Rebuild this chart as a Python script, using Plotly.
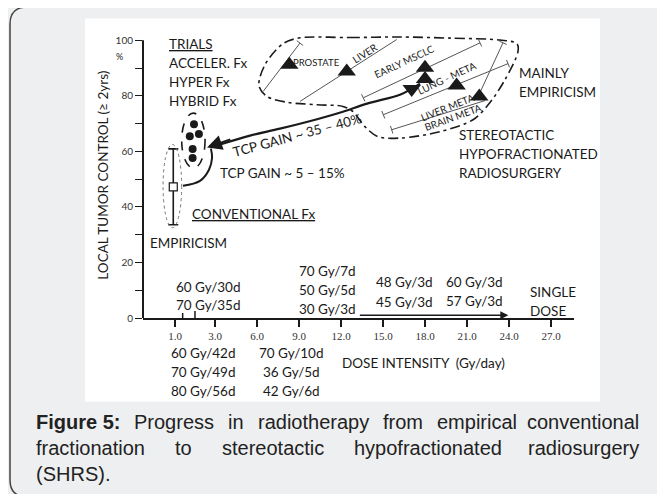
import plotly.graph_objects as go

# ---------------- canvas / axis geometry ----------------
W, H = 665, 494
OFF = 8                      # page body margin around the figure
ML, MR = 135, 99
MT = 24.4
MB = H - (318.3 - OFF)
X_RANGE = [-2.143, 28.643]
Y_RANGE = [0, 103]
PW, PH = W - ML - MR, H - MT - MB
SX = PW / (X_RANGE[1] - X_RANGE[0])   # px per x unit
SY = PH / (Y_RANGE[1] - Y_RANGE[0])   # px per y unit

# ---------------- data ----------------
X_TICK_POS = [0.15, 3, 6, 9, 12, 15, 18, 21, 24, 27]
X_TICK_TEXT = ["1.0", "3.0", "6.0", "9.0", "12.0", "15.0", "18.0", "21.0", "24.0", "27.0"]
Y_TICKS = [0, 10, 20, 30, 40, 50, 60, 70, 80, 90, 100]
Y_TICK_TEXT = ["0", "", "20", "", "40", "", "60", "", "80", "", "100"]

# conventional fractionation (mean with range)
CONV_X = [0.02]
CONV_Y = [47.2]
CONV_UP = [13.7]
CONV_DN = [13.6]

# hybrid / accelerated / hyper fractionation trials
HYB_X = [1.5, 1.2, 1.85, 1.4, 1.4]
HYB_Y = [69.8, 65.5, 66.3, 60.9, 57.6]

# SHRS sites
SHRS_SITE = ["Prostate", "Liver", "Early MSCLC", "Lung", "Lung meta", "Brain meta"]
SHRS_X = [8.31, 12.41, 18.0, 18.0, 20.26, 21.88]
SHRS_Y = [91.2, 88.8, 90.1, 86.1, 83.7, 79.8]
DOWN_X = [17.05]
DOWN_Y = [82.5]

# ranges of SHRS sites: (x0, y0, x1, y1, cap_start, cap_end)
RANGES = [
    (6.44, 81.6, 9.07, 99.0, False, True),
    (9.07, 78.0, 15.98, 100.3, False, False),
    (13.59, 79.3, 21.93, 99.1, True, True),
    (15.02, 73.2, 23.93, 91.6, True, True),
    (15.62, 67.8, 22.29, 78.3, True, False),
    (21.79, 79.7, 23.57, 99.1, False, True),
]

# region outline (dash-dot) around SHRS
OUT_X = [9.07, 12.64, 16.21, 19.79, 23.36, 24.57, 24.64, 23.71, 22.64, 21.43, 19.07,
         16.21, 14.64, 13.71, 12.86, 12.14, 10.29, 8.14, 6.71, 6.14, 6.57, 7.86, 9.07]
OUT_Y = [100.9, 101.0, 101.2, 100.8, 100.1, 98.8, 95.9, 85.8, 77.6, 71.4, 67.1,
         64.8, 65.3, 68.9, 74.3, 76.2, 76.8, 77.7, 79.8, 83.7, 91.2, 98.8, 100.9]

# TCP gain ~35-40% path (thick)
GAIN_X = [3.43, 5.5, 7.64, 10.29, 12.14, 13.86, 16.21, 17.07, 17.64]
GAIN_Y = [62.6, 65.7, 68.2, 71.6, 74.3, 77.2, 80.4, 82.6, 84.4]
# TCP gain ~5-15% small curve
SMALL_X = [0.71, 1.93, 2.57, 2.79, 2.71]
SMALL_Y = [47.6, 49.4, 53.4, 57.7, 61.0]

INK = "#1a1a1a"
LAB = "Lato, 'Open Sans', sans-serif"

fig = go.Figure()

# outline
fig.add_trace(go.Scatter(x=OUT_X, y=OUT_Y, mode="lines",
                         line=dict(color=INK, width=1.6, dash="10px,4px,3px,4px", shape="spline", smoothing=0.9),
                         hoverinfo="skip", showlegend=False))

# range lines with caps
def cap(xa, ya, xb, yb, half=4.0):
    # perpendicular cap at (xa,ya) for a segment from a to b, built in pixel space
    dxp, dyp = (xb - xa) * SX, (yb - ya) * SY
    n = (dxp ** 2 + dyp ** 2) ** 0.5
    px, py = -dyp / n * half, dxp / n * half
    return [xa - px / SX, xa + px / SX], [ya - py / SY, ya + py / SY]

for (x0, y0, x1, y1, c0, c1) in RANGES:
    xs, ys = [x0, x1], [y0, y1]
    if c0:
        cx, cy = cap(x0, y0, x1, y1)
        xs += [None] + cx
        ys += [None] + cy
    if c1:
        cx, cy = cap(x1, y1, x0, y0)
        xs += [None] + cx
        ys += [None] + cy
    fig.add_trace(go.Scatter(x=xs, y=ys, mode="lines", line=dict(color="#555", width=1),
                             hoverinfo="skip", showlegend=False))

# thick TCP gain path
fig.add_trace(go.Scatter(x=GAIN_X, y=GAIN_Y, mode="lines",
                         line=dict(color=INK, width=2.2, shape="spline"),
                         hoverinfo="skip", showlegend=False))
fig.add_trace(go.Scatter(x=SMALL_X, y=SMALL_Y, mode="lines",
                         line=dict(color=INK, width=2, shape="spline"),
                         hoverinfo="skip", showlegend=False))

# conventional point with range
fig.add_trace(go.Scatter(x=CONV_X, y=CONV_Y, mode="markers",
                         marker=dict(symbol="square", size=8, color="white", line=dict(color=INK, width=1.2)),
                         error_y=dict(type="data", symmetric=False, array=CONV_UP, arrayminus=CONV_DN,
                                      color=INK, thickness=1.6, width=5),
                         hoverinfo="skip", showlegend=False))
# hybrid dots
fig.add_trace(go.Scatter(x=HYB_X, y=HYB_Y, mode="markers",
                         marker=dict(symbol="circle", size=8, color=INK),
                         hoverinfo="skip", showlegend=False))
# SHRS triangles
fig.add_trace(go.Scatter(x=SHRS_X, y=SHRS_Y, mode="markers",
                         marker=dict(symbol="triangle-up", size=16, color=INK),
                         hoverinfo="skip", showlegend=False, cliponaxis=False))
fig.add_trace(go.Scatter(x=DOWN_X, y=DOWN_Y, mode="markers",
                         marker=dict(symbol="triangle-down", size=16, color=INK),
                         hoverinfo="skip", showlegend=False, cliponaxis=False))

# ellipses
fig.add_shape(type="circle", xref="x", yref="y", x0=-0.71, x1=0.62, y0=32.5, y1=62.5,
              line=dict(color="#777", width=1, dash="dot"))
fig.add_shape(type="circle", xref="x", yref="y", x0=0.62, x1=2.29, y0=54.0, y1=73.8,
              line=dict(color=INK, width=1.6, dash="dash"))

# y axis line
fig.add_shape(type="line", xref="x domain", yref="y domain", x0=0, x1=0,
              y0=0, y1=100 / Y_RANGE[1], line=dict(color=INK, width=2))
# small marks for 60Gy/30d and 70Gy/35d on the axis
for xm, hm in [(0.69, 1.8), (1.57, 2.5)]:
    fig.add_shape(type="line", xref="x", yref="y", x0=xm, x1=xm, y0=0, y1=hm,
                  line=dict(color=INK, width=1.5))

anns = []

def A(text, x, y, size=13.5, angle=0, xa="center", ya="middle", xref="x", yref="y",
      yshift=0, family=LAB, color=INK, **kw):
    d = dict(text=text, x=x, y=y, xref=xref, yref=yref, showarrow=False, textangle=angle,
             xanchor=xa, yanchor=ya, yshift=yshift, font=dict(size=size, family=family, color=color))
    d.update(kw)
    anns.append(d)

# arrows
anns.append(dict(x=2.43, y=61.4, ax=4.2, ay=64.5, xref="x", yref="y", axref="x", ayref="y",
                 showarrow=True, arrowhead=2, arrowsize=1.5, arrowwidth=2, arrowcolor=INK, text=""))
anns.append(dict(x=23.95, y=1.0, ax=13.24, ay=1.0, xref="x", yref="y", axref="x", ayref="y",
                 showarrow=True, arrowhead=2, arrowsize=1.0, arrowwidth=1.6, arrowcolor=INK, text=""))

# left labels
A("<u>TRIALS</u>", -0.43, 98.8, xa="left")
A("ACCELER. Fx", -0.43, 92.0, xa="left")
A("HYPER Fx", -0.43, 85.1, xa="left")
A("HYBRID Fx", -0.43, 78.3, xa="left")
A("<u>CONVENTIONAL Fx</u>", 1.21, 37.6, xa="left")
A("EMPIRICISM", -1.79, 27.1, xa="left")
A("TCP GAIN ~ 5 – 15%", 3.21, 52.3, xa="left")
A("TCP GAIN ~ 35 – 40%", 8.86, 66.0, angle=-15)

# SHRS site labels
A("PROSTATE", 10.26, 92.0, size=9.5)
A("LIVER", 13.71, 95.6, size=10, angle=-32)
A("EARLY MSCLC", 16.57, 92.4, size=10, angle=-25)
A("LUNG - META", 19.55, 86.5, size=10, angle=-25)
A("LIVER META", 19.64, 76.1, size=10, angle=-22)
A("BRAIN META", 20.02, 72.4, size=10, angle=-20)

A("MAINLY", 24.57, 88.4, xa="left")
A("EMPIRICISM", 24.57, 81.5, xa="left")
A("STEREOTACTIC", 20.29, 66.0, xa="left")
A("HYPOFRACTIONATED", 20.29, 59.2, xa="left")
A("RADIOSURGERY", 20.29, 52.3, xa="left")

# schedules above the axis
A("60 Gy/30d", 2.57, 11.3)
A("70 Gy/35d", 2.57, 4.8)
A("70 Gy/7d", 11.07, 17.1)
A("50 Gy/5d", 11.07, 10.2)
A("30 Gy/3d", 11.07, 3.35)
A("48 Gy/3d", 16.57, 12.8)
A("45 Gy/3d", 16.57, 5.9)
A("60 Gy/3d", 21.5, 13.1)
A("57 Gy/3d", 21.5, 6.2)
A("SINGLE", 25.36, 9.5, xa="left")
A("DOSE", 25.36, 2.6, xa="left")

# schedules below the axis
for i, t in enumerate(["60 Gy/42d", "70 Gy/49d", "80 Gy/56d"]):
    A(t, 2.21, 0, yshift=-35 - 19 * i)
for i, t in enumerate(["70 Gy/10d", "36 Gy/5d", "42 Gy/6d"]):
    A(t, 8.43, 0, yshift=-35 - 19 * i)
A("DOSE INTENSITY  (Gy/day)", 17.89, 0, yshift=-45)

# paper helpers (arguments are page pixel positions)
def PX(px):
    return (px - OFF - ML) / PW

def PY(py):
    return (H - MB - (py - OFF)) / PH

A("%", PX(119.3), PY(56.7), size=9, xref="paper", yref="paper")
A("LOCAL TUMOR CONTROL (≥ 2yrs)", PX(103), PY(176), angle=-90, xref="paper", yref="paper")

# ---------------- caption (justified) ----------------
AR = {' ': 278, 'P': 667, 'r': 333, 'o': 556, 'g': 556, 'e': 556, 's': 500, 'i': 222, 'n': 556,
      'a': 556, 'd': 556, 't': 278, 'h': 556, 'p': 556, 'y': 500, 'f': 278, 'm': 833, 'c': 500,
      'l': 222, 'v': 500, 'u': 556, '(': 333, ')': 333, 'S': 667, 'H': 722, 'R': 722, '.': 278}
ARB = {'F': 611, 'i': 278, 'g': 611, 'u': 611, 'r': 389, 'e': 556, ' ': 278, '5': 556, ':': 333}
CAP_SIZE = 20
CAP_FONT = "'Liberation Sans', Arial, sans-serif"

def tw(s, bold=False):
    t = ARB if bold else AR
    return sum(t.get(c, 556) for c in s) * CAP_SIZE / 1000

CAP_L, CAP_R = 34, 641
cap_lines = [
    ([("Figure 5:", True), ("Progress", False), ("in", False), ("radiotherapy", False),
      ("from", False), ("empirical", False), ("conventional", False)], 422),
    ([("fractionation", False), ("to", False), ("stereotactic", False),
      ("hypofractionated", False), ("radiosurgery", False)], 448),
]
for words, py in cap_lines:
    total = sum(tw(w, b) for w, b in words)
    gap = (CAP_R - CAP_L - total) / (len(words) - 1)
    x = CAP_L
    for k, (w, b) in enumerate(words):
        txt = "<b>%s</b>" % w if b else w
        if k == len(words) - 1:
            A(txt, PX(CAP_R), PY(py), size=CAP_SIZE, family=CAP_FONT, color="#222",
              xa="right", xref="paper", yref="paper")
        else:
            A(txt, PX(x), PY(py), size=CAP_SIZE, family=CAP_FONT, color="#222",
              xa="left", xref="paper", yref="paper")
        x += tw(w, b) + gap
A("(SHRS).", PX(CAP_L), PY(474), size=CAP_SIZE, family=CAP_FONT, color="#222",
  xa="left", xref="paper", yref="paper")

# ---------------- background: white figure panel + rounded frame ----------------
fig.add_shape(type="rect", xref="paper", yref="paper", x0=PX(85), x1=PX(600), y0=PY(402), y1=PY(19),
              fillcolor="white", line=dict(width=0), layer="below")

def frame_path(x0, y0, x1, y1, r):
    pts = [
        ("M", (x0 + r, y0)), ("L", (x1 - r, y0)), ("Q", (x1, y0), (x1, y0 + r)),
        ("L", (x1, y1 - r)), ("Q", (x1, y1), (x1 - r, y1)), ("L", (x0 + r, y1)),
        ("Q", (x0, y1), (x0, y1 - r)), ("L", (x0, y0 + r)), ("Q", (x0, y0), (x0 + r, y0)),
    ]
    s = ""
    for p in pts:
        cmd = p[0]
        s += cmd + " " + " ".join("%.5f,%.5f" % (PX(a), PY(b)) for a, b in p[1:]) + " "
    return s + "Z"

fig.add_shape(type="path", xref="paper", yref="paper", path=frame_path(10, 7.5, 690, 497, 17),
              line=dict(color="#444", width=1.5), fillcolor="rgba(0,0,0,0)", layer="below")

fig.update_layout(
    width=W, height=H,
    margin=dict(l=ML, r=MR, t=MT, b=MB, autoexpand=False),
    paper_bgcolor="#eeeff1", plot_bgcolor="rgba(0,0,0,0)",
    annotations=anns, showlegend=False,
    xaxis=dict(range=X_RANGE, showgrid=False, zeroline=False, showline=True, linecolor=INK, linewidth=2,
               tickmode="array", tickvals=X_TICK_POS, ticktext=X_TICK_TEXT, ticks="outside",
               ticklen=7, tickwidth=1.6, tickcolor=INK,
               tickfont=dict(family="'Liberation Serif', serif", size=11, color="#333")),
    yaxis=dict(range=Y_RANGE, showgrid=False, zeroline=False, showline=False,
               tickmode="array", tickvals=Y_TICKS, ticktext=Y_TICK_TEXT, ticks="outside",
               ticklen=7, tickwidth=1.4, tickcolor=INK,
               tickfont=dict(family=LAB, size=10, color="#333")),
)

fig.write_html("out.html")
